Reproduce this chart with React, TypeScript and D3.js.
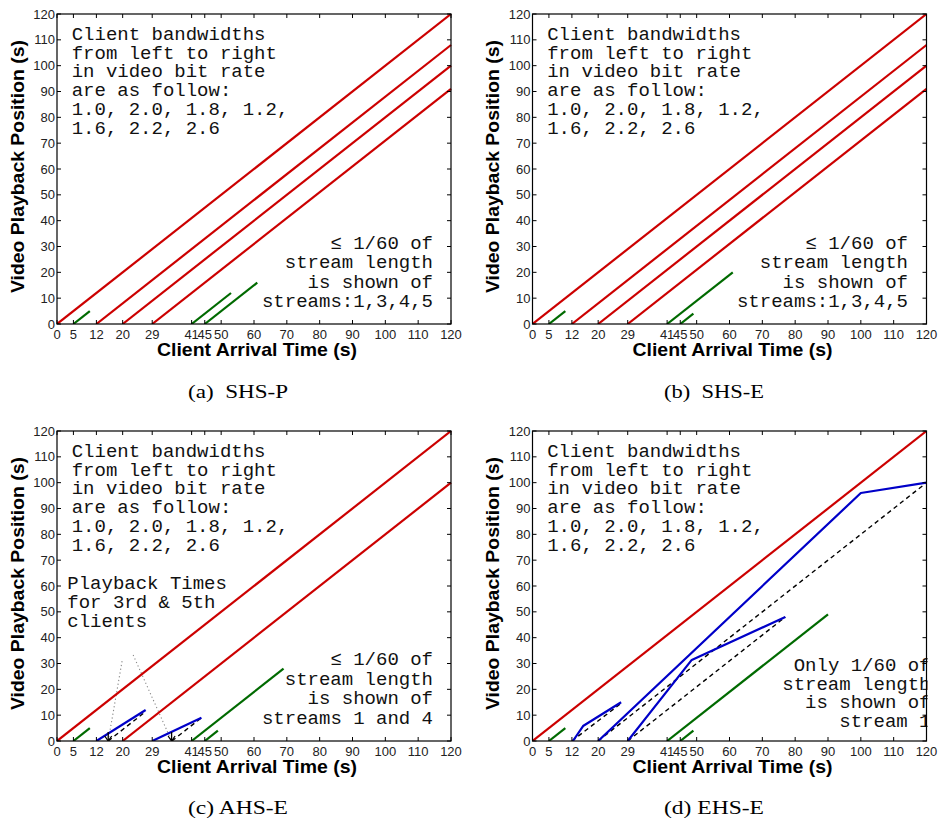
import React from 'react';
import * as d3 from 'd3';

type Pt = [number, number];

// ---------- data ----------
const xTicks = [0, 5, 12, 20, 29, 41, 45, 50, 60, 70, 80, 90, 100, 110, 120];
const yTicks = [0, 10, 20, 30, 40, 50, 60, 70, 80, 90, 100, 110, 120];
const xTitle = 'Client Arrival Time (s)';
const yTitle = 'Video Playback Position (s)';

const bandwidthNote = [
  'Client bandwidths',
  'from left to right',
  'in video bit rate',
  'are as follow:',
  '1.0, 2.0, 1.8, 1.2,',
  '1.6, 2.2, 2.6',
];

// (a) SHS-P
const redA: Pt[][] = [[[0, 0], [120, 120]], [[12, 0], [120, 108]], [[20, 0], [120, 100]], [[29, 0], [120, 91]]];
const greenA: Pt[][] = [[[5, 0], [10, 5]], [[41, 0], [53, 12]], [[45, 0], [61, 16]]];
const noteA = ['≤ 1/60 of', 'stream length', 'is shown of', 'streams:1,3,4,5'];

// (b) SHS-E
const redB: Pt[][] = [[[0, 0], [120, 120]], [[12, 0], [120, 108]], [[20, 0], [120, 100]], [[29, 0], [120, 91]]];
const greenB: Pt[][] = [[[5, 0], [10, 5]], [[41, 0], [61, 20]], [[45, 0], [49, 4]]];
const noteB = ['≤ 1/60 of', 'stream length', 'is shown of', 'streams:1,3,4,5'];

// (c) AHS-E
const redC: Pt[][] = [[[0, 0], [120, 120]], [[20, 0], [120, 100]]];
const greenC: Pt[][] = [[[5, 0], [10, 5]], [[41, 0], [69, 28]], [[45, 0], [49, 4]]];
const blueC: Pt[][] = [[[12, 0], [27, 12]], [[29, 0], [44, 9]]];
const dashedC: Pt[][] = [[[15.6, 0], [27, 11.4]], [[35, 0], [44, 9]]];
const dottedC: Pt[][] = [[[15.6, 0], [19.9, 31.5]], [[23.2, 33.3], [34.9, 0]]];
const arrowsC = [15.6, 34.9];
const noteC = ['≤ 1/60 of', 'stream length', 'is shown of', 'streams 1 and 4'];
const playbackNoteC = ['Playback Times', 'for 3rd & 5th', 'clients'];

// (d) EHS-E
const redD: Pt[][] = [[[0, 0], [120, 120]]];
const greenD: Pt[][] = [[[5, 0], [10, 5]], [[41, 0], [90, 49]], [[45, 0], [49, 4]]];
const blueD: Pt[][] = [
  [[12.3, 0], [15.4, 5.8], [27, 15]],
  [[20, 0], [100, 96], [120, 100]],
  [[29, 0], [48.5, 31.4], [77, 48]],
];
const dashedD: Pt[][] = [[[12, 0], [27, 14.6]], [[20, 0], [120, 100]], [[29, 0], [77, 48]]];
const noteD = ['Only 1/60 of', 'stream length', 'is shown of', 'stream 1'];

const captions = ['(a)  SHS-P', '(b)  SHS-E', '(c) AHS-E', '(d) EHS-E'];

// ---------- layout ----------
const PW = 394;
const PH = 310;
const RED = '#cc0000';
const GREEN = '#006a00';
const BLUE = '#0000c8';
const MONO = '"Liberation Mono", "DejaVu Sans Mono", monospace';
const SANS = '"Liberation Sans", Arial, sans-serif';
const SERIF = '"Liberation Serif", "Times New Roman", serif';

interface PanelCfg {
  id: string;
  left: number;
  top: number;
  red: Pt[][];
  green: Pt[][];
  blue?: Pt[][];
  dashed?: Pt[][];
  dotted?: Pt[][];
  arrows?: number[];
  note: string[];
  noteRight: number; // offset from plot right edge
  noteTop: number; // first baseline offset from plot top
  noteStep: number;
  playback?: string[];
  caption: string;
  capX: number;
  capY: number;
}

const panels: PanelCfg[] = [
  { id: 'a', left: 57, top: 14, red: redA, green: greenA, note: noteA, noteRight: -18, noteTop: 234.5, noteStep: 19.5, caption: captions[0], capX: 238, capY: 398 },
  { id: 'b', left: 532.5, top: 14, red: redB, green: greenB, note: noteB, noteRight: -18.5, noteTop: 234.5, noteStep: 19.5, caption: captions[1], capX: 714, capY: 398 },
  { id: 'c', left: 57, top: 431, red: redC, green: greenC, blue: blueC, dashed: dashedC, dotted: dottedC, arrows: arrowsC, note: noteC, noteRight: -18, noteTop: 234, noteStep: 19.5, playback: playbackNoteC, caption: captions[2], capX: 238, capY: 814 },
  { id: 'd', left: 532.5, top: 431, red: redD, green: greenD, blue: blueD, dashed: dashedD, note: noteD, noteRight: 4, noteTop: 240, noteStep: 18.5, caption: captions[3], capX: 714, capY: 814 },
];

function Panel({ cfg }: { cfg: PanelCfg }) {
  const x = d3.scaleLinear().domain([0, 120]).range([cfg.left, cfg.left + PW]);
  const y = d3.scaleLinear().domain([0, 120]).range([cfg.top + PH, cfg.top]);
  const line = d3.line<Pt>().x((d) => x(d[0])).y((d) => y(d[1]));
  const clipId = `clip-${cfg.id}`;
  const bottom = cfg.top + PH;
  const right = cfg.left + PW;
  const tl = 4;
  return (
    <g>
      <defs>
        <clipPath id={clipId}>
          <rect x={cfg.left} y={cfg.top} width={PW + 1} height={PH} />
        </clipPath>
      </defs>
      {/* axis box */}
      <rect x={cfg.left} y={cfg.top} width={PW} height={PH} fill="white" stroke="none" />
      <g clipPath={`url(#${clipId})`}>
        {/* text notes */}
        <g fontFamily={MONO} fontSize={19} fill="#111">
          {bandwidthNote.map((t, i) => (
            <text key={i} x={cfg.left + 14.7} y={cfg.top + 26 + i * 18.7} style={{ whiteSpace: 'pre' }}>
              {t}
            </text>
          ))}
          {cfg.note.map((t, i) => (
            <text key={'n' + i} x={right + cfg.noteRight} y={cfg.top + cfg.noteTop + i * cfg.noteStep} textAnchor="end">
              {t}
            </text>
          ))}
          {cfg.playback &&
            cfg.playback.map((t, i) => (
              <text key={'p' + i} x={cfg.left + 10.3} y={cfg.top + 158.3 + i * 18.8}>
                {t}
              </text>
            ))}
        </g>
        {cfg.dotted &&
          cfg.dotted.map((d, i) => (
            <path key={'dt' + i} d={line(d) || ''} fill="none" stroke="#888" strokeWidth={1.1} strokeDasharray="1.2,2.6" />
          ))}
        {cfg.red.map((d, i) => (
          <path key={'r' + i} d={line(d) || ''} fill="none" stroke={RED} strokeWidth={2.2} />
        ))}
        {cfg.green.map((d, i) => (
          <path key={'g' + i} d={line(d) || ''} fill="none" stroke={GREEN} strokeWidth={2.2} />
        ))}
        {cfg.dashed &&
          cfg.dashed.map((d, i) => (
            <path key={'ds' + i} d={line(d) || ''} fill="none" stroke="#000" strokeWidth={1.4} strokeDasharray="4.5,3.5" />
          ))}
        {cfg.blue &&
          cfg.blue.map((d, i) => (
            <path key={'b' + i} d={line(d) || ''} fill="none" stroke={BLUE} strokeWidth={2.2} strokeLinejoin="round" />
          ))}
        {cfg.arrows &&
          cfg.arrows.map((a, i) => (
            <g key={'a' + i} stroke="#000" strokeWidth={1.3} fill="none">
              <line x1={x(a)} x2={x(a)} y1={y(0)} y2={y(0) - 9} />
              <polyline points={`${x(a) - 3.5},${y(0) - 5} ${x(a)},${y(0)} ${x(a) + 3.5},${y(0) - 5}`} />
            </g>
          ))}
      </g>
      <rect x={cfg.left} y={cfg.top} width={PW} height={PH} fill="none" stroke="#000" strokeWidth={1.2} />
      {/* ticks */}
      <g stroke="#000" strokeWidth={1}>
        {xTicks.map((t) => (
          <g key={'xt' + t}>
            <line x1={x(t)} x2={x(t)} y1={bottom} y2={bottom - tl} />
            <line x1={x(t)} x2={x(t)} y1={cfg.top} y2={cfg.top + tl} />
          </g>
        ))}
        {yTicks.map((t) => (
          <g key={'yt' + t}>
            <line x1={cfg.left} x2={cfg.left + tl} y1={y(t)} y2={y(t)} />
            <line x1={right} x2={right - tl} y1={y(t)} y2={y(t)} />
          </g>
        ))}
      </g>
      <g fontFamily={SANS} fontSize={13} fill="#222">
        {xTicks.map((t) => (
          <text key={'xl' + t} x={x(t)} y={bottom + 15} textAnchor="middle">
            {t}
          </text>
        ))}
        {yTicks.map((t) => (
          <text key={'yl' + t} x={cfg.left - 2} y={y(t) + 4.6} textAnchor="end">
            {t}
          </text>
        ))}
      </g>
      <text
        x={(cfg.left + right) / 2 + 3}
        y={bottom + 31.5}
        textAnchor="middle"
        fontFamily={SANS}
        fontWeight="bold"
        fontSize={18.5}
        textLength={200}
        lengthAdjust="spacingAndGlyphs"
        fill="#000"
      >
        {xTitle}
      </text>
      <text
        transform={`translate(${cfg.left - 33.5},${cfg.top + 152.5}) rotate(-90)`}
        textAnchor="middle"
        fontFamily={SANS}
        fontWeight="bold"
        fontSize={18.5}
        textLength={253}
        lengthAdjust="spacingAndGlyphs"
        fill="#000"
      >
        {yTitle}
      </text>
      <text
        x={cfg.capX}
        y={cfg.capY}
        textAnchor="middle"
        fontFamily={SERIF}
        fontSize={18}
        textLength={100}
        lengthAdjust="spacingAndGlyphs"
        fill="#000"
        style={{ whiteSpace: 'pre' }}
      >
        {cfg.caption}
      </text>
    </g>
  );
}

export default function App() {
  return (
    <svg
      width={940}
      height={825}
      viewBox="0 0 940 825"
      style={{ position: 'absolute', left: 0, top: 0, background: '#fff' }}
    >
      <rect x={0} y={0} width={940} height={825} fill="#fff" />
      {panels.map((p) => (
        <Panel key={p.id} cfg={p} />
      ))}
    </svg>
  );
}
